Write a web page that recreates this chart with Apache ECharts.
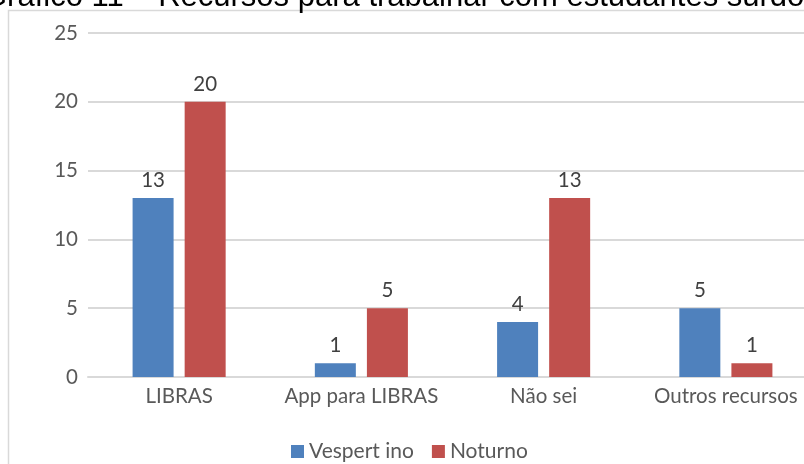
<!DOCTYPE html>
<html>
<head>
<meta charset="utf-8">
<script src="https://cdn.jsdelivr.net/npm/echarts@6/dist/echarts.min.js"></script>
<style>
  html, body { margin: 0; padding: 0; background: #fff; }
  #chart { width: 804px; height: 464px; }
</style>
</head>
<body>
<div id="chart"></div>
<script>
// data
const categories = ['LIBRAS', 'App para LIBRAS', 'Não sei', 'Outros recursos'];
const vespertino = [13, 1, 4, 5];
const noturno = [20, 5, 13, 1];
const seriesNames = ['Vespert ino', 'Noturno'];
const titleText = 'Gráfico 11 – Recursos para trabalhar com estudantes surdos';

var myChart = echarts.init(document.getElementById('chart'));

const fontFam = 'Lato, "Open Sans", sans-serif';

var option = {
    animation: false,
    title: {
        text: titleText,
        left: -22,
        top: -23,
        textStyle: { fontFamily: 'Liberation Sans, Arial', fontSize: 31, fontWeight: 'normal', color: '#000' }
    },
    graphic: [{
        type: 'rect',
        shape: { x: 8.5, y: 10.5, width: 820, height: 470 },
        style: { fill: 'none', stroke: '#d9d9d9', lineWidth: 1.5 },
        z: -1
    }],
    legend: {
        bottom: -3,
        left: 286,
        itemWidth: 13,
        itemHeight: 13,
        itemGap: 18,
        icon: 'rect',
        textStyle: { fontFamily: fontFam, fontSize: 21, color: '#595959' },
        data: seriesNames
    },
    grid: { left: 88, width: 729, top: 33, bottom: 87, outerBoundsMode: 'none', containLabel: false },
    xAxis: {
        type: 'category',
        data: categories,
        axisLine: { lineStyle: { color: '#d9d9d9', width: 2 } },
        axisTick: { show: false },
        axisLabel: { interval: 0, hideOverlap: false, fontFamily: fontFam, fontSize: 20.5, color: '#595959', margin: 9 }
    },
    yAxis: {
        type: 'value',
        min: 0,
        max: 25,
        interval: 5,
        axisLine: { show: false },
        axisTick: { show: false },
        splitLine: { lineStyle: { color: '#d9d9d9', width: 2 } },
        axisLabel: { fontFamily: fontFam, fontSize: 20.5, color: '#595959', margin: 10 }
    },
    series: [
        {
            name: seriesNames[0],
            type: 'bar',
            data: vespertino,
            barWidth: 41,
            barGap: '27%',
            itemStyle: { color: '#4f81bd' },
            label: { show: true, position: 'top', distance: 7, fontFamily: fontFam, fontSize: 20.5, color: '#404040' }
        },
        {
            name: seriesNames[1],
            type: 'bar',
            data: noturno,
            barWidth: 41,
            barGap: '27%',
            itemStyle: { color: '#c0504d' },
            label: { show: true, position: 'top', distance: 7, fontFamily: fontFam, fontSize: 20.5, color: '#404040' }
        }
    ]
};

myChart.setOption(option);
</script>
</body>
</html>
